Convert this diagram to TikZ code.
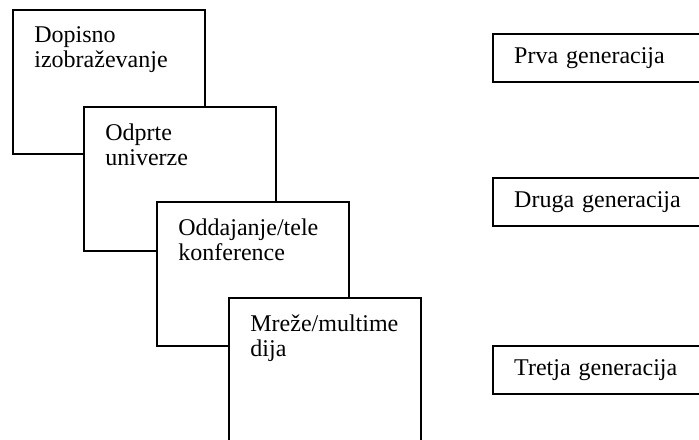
\documentclass[tikz,border=0pt]{standalone}
\usepackage{fontspec}
\setmainfont{Liberation Serif}
\usetikzlibrary{positioning}

\begin{document}
\begin{tikzpicture}[
        x=0.5pt, y=0.5pt,
        stage/.style={draw, line width=1.2pt, fill=white, anchor=north west,
                      minimum width=96pt, minimum height=72pt, inner sep=0pt},
        lbl/.style={anchor=north west, inner sep=0pt, align=left,
                    font=\fontsize{12}{12.5}\selectfont},
        gen/.style={draw, line width=1.2pt, anchor=north west, minimum height=24pt,
                    text width=105pt, inner xsep=10.5pt, align=left,
                    font=\fontsize{12}{12.5}\selectfont}
      ]
        \clip (0,0) rectangle (699,-439);

        \node[stage] (dopisno) at (12,-9) {};
        \node[lbl] (dopisnoT) at ([shift={(22,-17)}]dopisno.north west) {Dopisno\\izobraževanje};
        \node[stage] (odprte) at (83,-106) {};
        \node[lbl] (odprteT) at ([shift={(22,-17)}]odprte.north west) {Odprte\\univerze};
        \node[stage] (oddajanje) at (156,-201) {};
        \node[lbl] (oddajanjeT) at ([shift={(22,-17)}]oddajanje.north west) {Oddajanje/tele\\konference};
        \node[stage] (mreze) at (228,-297) {};
        \node[lbl] (mrezeT) at ([shift={(22,-17)}]mreze.north west) {Mreže/multime\\dija};

        \node[gen] (prva) at (492,-33) {Prva generacija};
        \node[gen] (druga) at (492,-177) {Druga generacija};
        \node[gen] (tretja) at (492,-345) {Tretja generacija};
      \end{tikzpicture}
\end{document}
